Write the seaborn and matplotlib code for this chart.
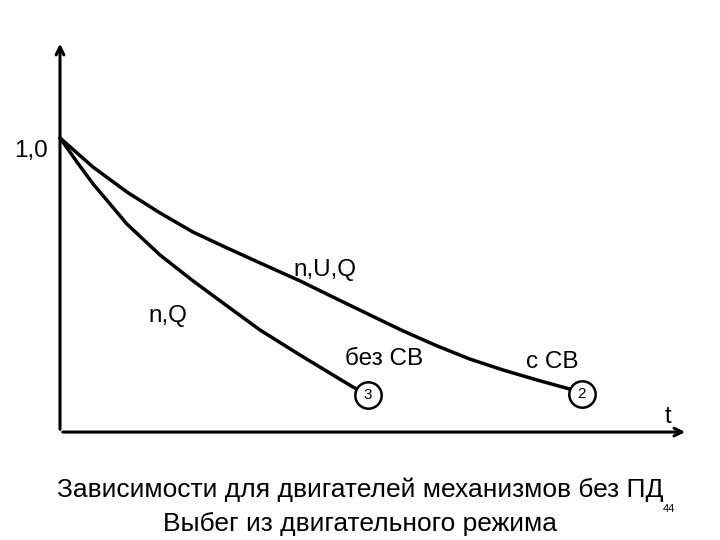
import matplotlib
matplotlib.use("Agg")
import matplotlib.pyplot as plt
import numpy as np
import pandas as pd
import seaborn as sns

# curve n,U,Q (with self-ventilation, "с СВ"), relative speed vs time
t_upper = [0.0, 0.33, 0.67, 1.00, 1.33, 1.67, 2.00, 2.40, 2.73, 3.10,
           3.43, 3.77, 4.10, 4.43, 4.77, 5.10, 5.22]
n_upper = [1.0, 0.901, 0.816, 0.745, 0.680, 0.626, 0.575, 0.514, 0.459, 0.398,
           0.344, 0.293, 0.248, 0.211, 0.177, 0.146, 0.130]
# curve n,Q (without self-ventilation, "без СВ")
t_lower = [0.0, 0.17, 0.33, 0.67, 1.00, 1.33, 1.67, 2.00, 2.40, 2.73, 2.93, 3.08]
n_lower = [1.0, 0.918, 0.844, 0.707, 0.602, 0.514, 0.429, 0.347, 0.262, 0.194, 0.153, 0.126]

curve_labels = ["n,U,Q", "n,Q"]
end_labels = ["с СВ", "без СВ"]
end_marks = ["2", "3"]
y_tick_label = "1,0"
x_axis_label = "t"
title_lines = ["Зависимости для двигателей механизмов без ПД", "Выбег из двигательного режима"]
page_no = "44"

sns.set_theme(style="white")
plt.rcParams["font.family"] = ["Liberation Sans", "DejaVu Sans"]
plt.rcParams["text.color"] = "black"

df = pd.concat([
    pd.DataFrame({"t": t_upper, "n": n_upper, "curve": curve_labels[0]}),
    pd.DataFrame({"t": t_lower, "n": n_lower, "curve": curve_labels[1]}),
])

fig = plt.figure(figsize=(7.2, 5.4), dpi=100)
ax = fig.add_axes([0, 0, 1, 1])
ax.set_xlim(-0.6, 6.6)
ax.set_ylim(-0.367, 1.469)
ax.axis("off")

sns.lineplot(data=df, x="t", y="n", units="curve", estimator=None,
             color="black", lw=2.5, sort=False, ax=ax, legend=False,
             solid_joinstyle="round", solid_capstyle="round")

# axes with arrows
arrow = dict(arrowstyle="->", color="black", lw=2.2, mutation_scale=14)
ax.annotate("", xy=(0, 1.33), xytext=(0, 0), arrowprops=arrow)
ax.annotate("", xy=(6.28, 0), xytext=(0, 0), arrowprops=arrow)

# end circles
for ts, ns, mark in ((t_upper, n_upper, end_marks[0]), (t_lower, n_lower, end_marks[1])):
    ax.plot(ts[-1], ns[-1], "o", ms=19, mfc="white", mec="black", mew=1.8, zorder=5)
    ax.text(ts[-1], ns[-1], mark, ha="center", va="center", fontsize=11, zorder=6)

ax.text(-0.12, 0.957, y_tick_label, ha="right", va="center", fontsize=17.5)
ax.text(6.08, 0.05, x_axis_label, ha="center", va="center", fontsize=17)
ax.text(2.65, 0.55, curve_labels[0], ha="center", va="center", fontsize=17.5)
ax.text(1.08, 0.395, curve_labels[1], ha="center", va="center", fontsize=17.5)
ax.text(3.24, 0.25, end_labels[1], ha="center", va="center", fontsize=17.5)
ax.text(4.92, 0.238, end_labels[0], ha="center", va="center", fontsize=17.5)

ax.text(3.0, -0.197, title_lines[0], ha="center", va="center", fontsize=19)
ax.text(3.0, -0.313, title_lines[1], ha="center", va="center", fontsize=19)
ax.text(6.09, -0.262, page_no, ha="center", va="center", fontsize=8)

fig.savefig("out.png", dpi=100, facecolor="white")
